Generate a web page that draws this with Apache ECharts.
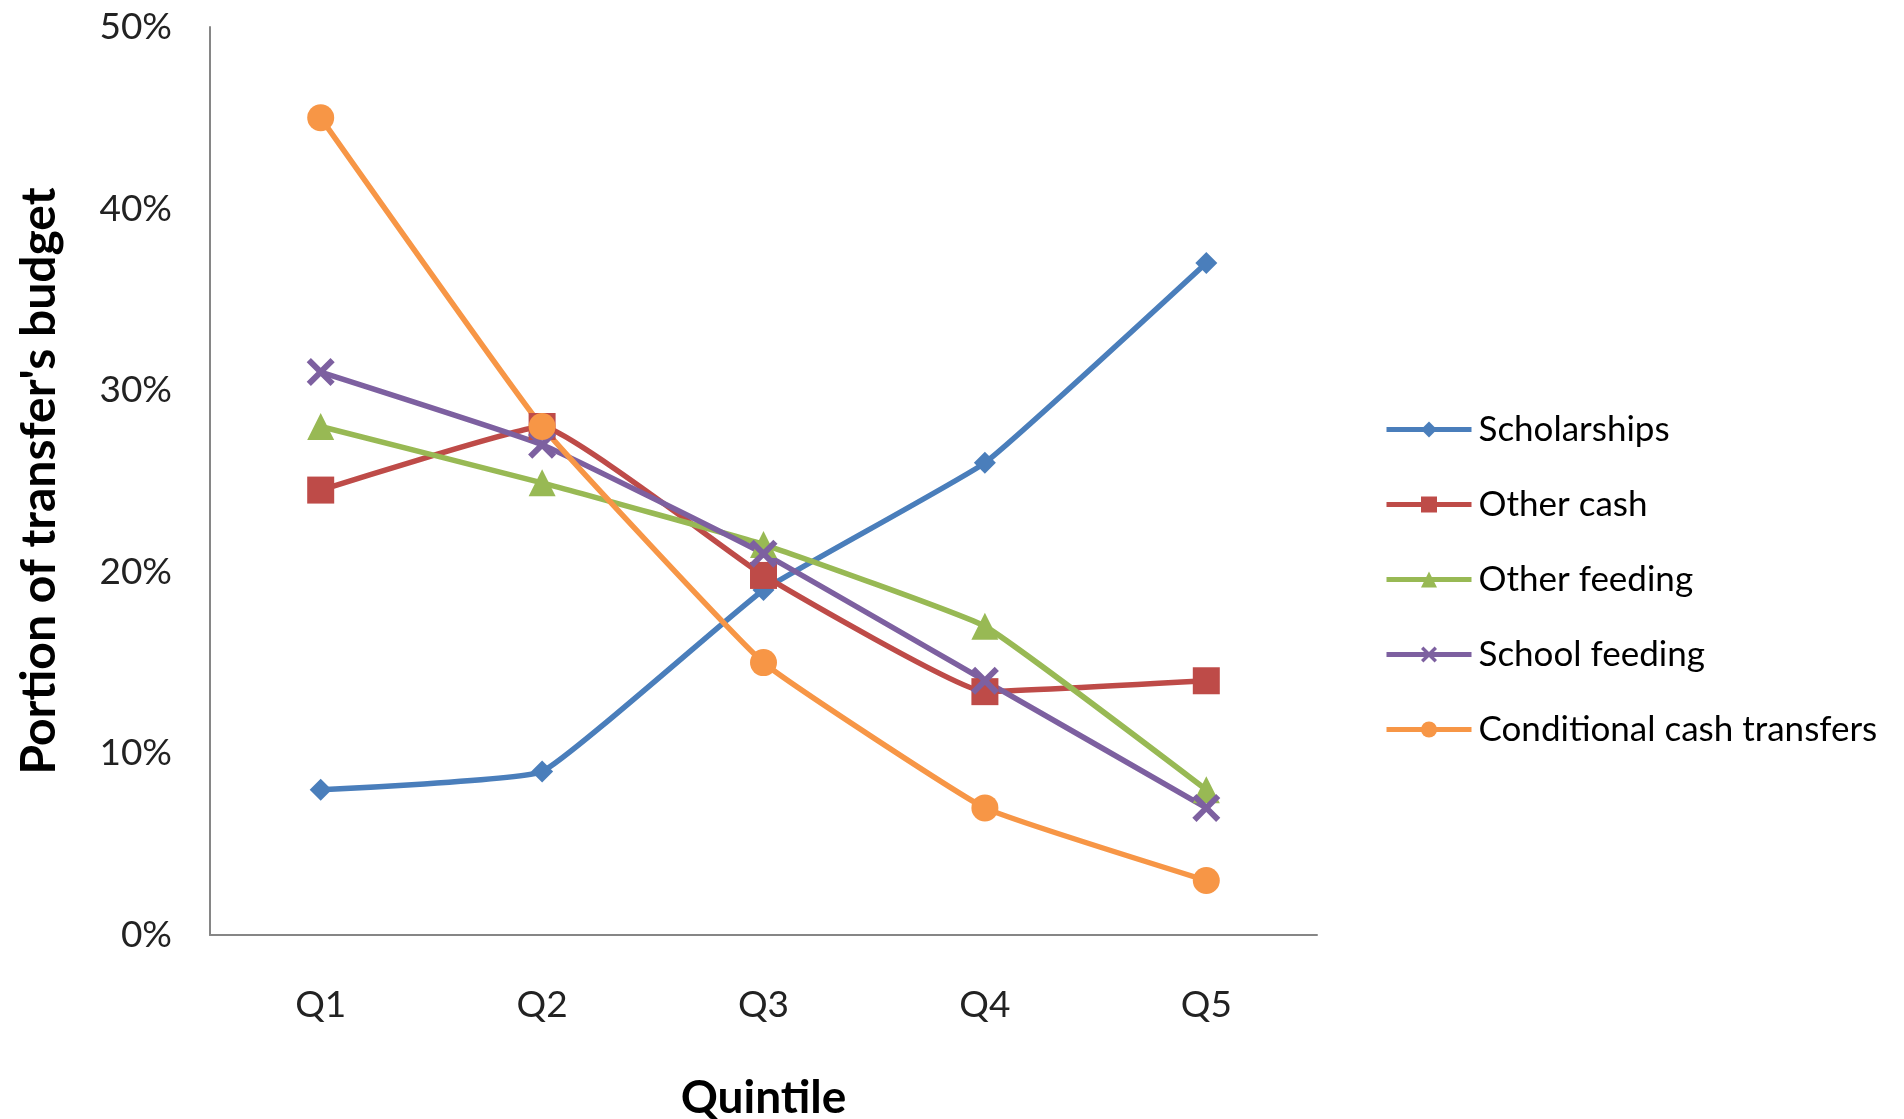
<!DOCTYPE html>
<html><head><meta charset="utf-8">
<script src="https://cdn.jsdelivr.net/npm/echarts@6/dist/echarts.min.js"></script>
<style>html,body{margin:0;padding:0;background:#fff}#c{width:1904px;height:1119px}</style>
</head><body><div id="c"></div>
<script>
const categories = ['Q1','Q2','Q3','Q4','Q5'];
const scholarships = [8, 9, 19, 26, 37];
const otherCash = [24.5, 28, 19.8, 13.4, 14];
const otherFeeding = [28, 24.9, 21.5, 17, 8];
const schoolFeeding = [31, 27, 21, 14, 7];
const cct = [45, 28, 15, 7, 3];
const yTicks = [0, 10, 20, 30, 40, 50];

const FONT = 'Lato';
const xPath = 'path://M0,1.5 L1.5,0 L5,3.5 L8.5,0 L10,1.5 L6.5,5 L10,8.5 L8.5,10 L5,6.5 L1.5,10 L0,8.5 L3.5,5 Z';

function mk(name, data, color, symbol, size) {
  return {
    name, type: 'line', data, smooth: 0.1,
    symbol, symbolSize: size, showSymbol: true,
    lineStyle: { color, width: 5.5 },
    itemStyle: { color, borderWidth: 0 },
    emphasis: { disabled: true }
  };
}

const chart = echarts.init(document.getElementById('c'), null, { renderer: 'canvas' });
chart.setOption({
  animation: false,
  backgroundColor: '#fff',
  grid: { left: 210, right: 587, top: 27, bottom: 184, containLabel: false, outerBoundsMode: 'none' },
  xAxis: {
    type: 'category', data: categories, boundaryGap: true,
    name: 'Quintile', nameLocation: 'middle', nameGap: 140,
    nameTextStyle: { fontFamily: FONT, fontWeight: 'bold', fontSize: 46, color: '#000' },
    axisLine: { lineStyle: { color: '#868686', width: 2 } },
    axisTick: { show: false },
    axisLabel: { fontFamily: FONT, fontSize: 37, color: '#222', margin: 52 },
    splitLine: { show: false }
  },
  yAxis: {
    type: 'value', min: yTicks[0], max: yTicks[yTicks.length - 1], interval: 10,
    name: "Portion of transfer's budget", nameLocation: 'middle', nameGap: 146, nameRotate: 90,
    nameTextStyle: { fontFamily: FONT, fontWeight: 'bold', fontSize: 48, color: '#000' },
    axisLine: { show: true, lineStyle: { color: '#868686', width: 2 } },
    axisTick: { show: false },
    axisLabel: { fontFamily: FONT, fontSize: 37, color: '#222', margin: 38, formatter: v => v + '%' },
    splitLine: { show: false }
  },
  legend: {
    orient: 'vertical', left: 1379, top: 407,
    itemWidth: 85, itemHeight: 20, itemGap: 40,
    lineStyle: { width: 5 },
    textStyle: { fontFamily: FONT, fontSize: 35, color: '#000', padding: [0, 0, 0, 2] },
    data: ['Scholarships', 'Other cash', 'Other feeding', 'School feeding', 'Conditional cash transfers']
  },
  series: [
    mk('Scholarships', scholarships, '#4A7EBB', 'diamond', 22),
    mk('Other cash', otherCash, '#BE4B48', 'rect', 27),
    mk('Other feeding', otherFeeding, '#98B954', 'triangle', 27),
    mk('School feeding', schoolFeeding, '#7D60A0', xPath, 28),
    mk('Conditional cash transfers', cct, '#F79646', 'circle', 27)
  ]
});
</script></body></html>
